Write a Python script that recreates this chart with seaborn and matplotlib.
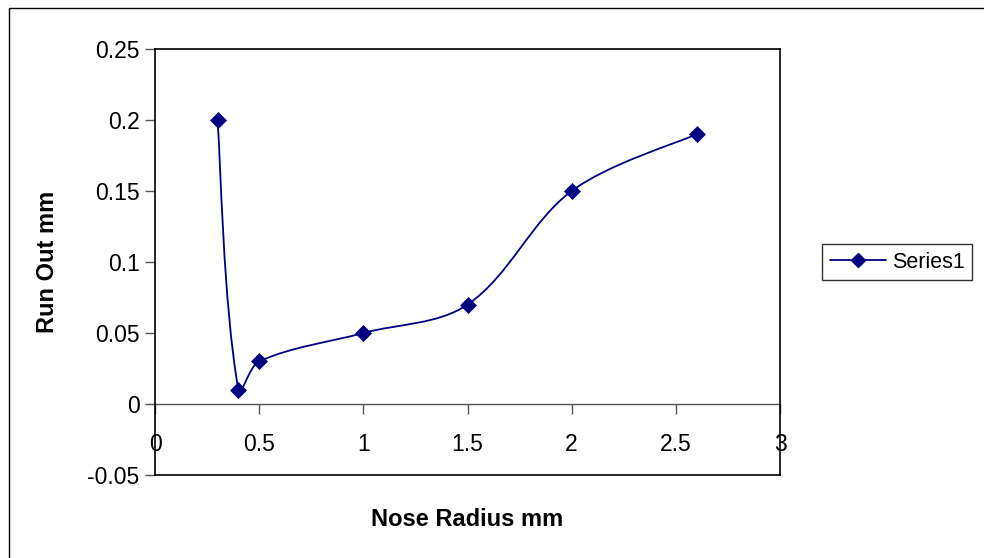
import numpy as np
import seaborn as sns
import matplotlib.pyplot as plt
import matplotlib.patches as mpatches
from matplotlib.path import Path
from matplotlib.lines import Line2D
from matplotlib.ticker import FuncFormatter

nose_radius = [0.3, 0.4, 0.5, 1.0, 1.5, 2.0, 2.6]
run_out = [0.2, 0.01, 0.03, 0.05, 0.07, 0.15, 0.19]
x_ticks = [0, 0.5, 1, 1.5, 2, 2.5, 3]
y_ticks = [-0.05, 0, 0.05, 0.1, 0.15, 0.2, 0.25]

navy = '#000080'

sns.set_style('white')
plt.rcParams['font.family'] = ['Liberation Sans', 'DejaVu Sans']
plt.rcParams['text.color'] = 'black'

fig = plt.figure(figsize=(9.84, 5.58), dpi=100)
ax = fig.add_axes([155 / 984, 1 - 475 / 558, 625 / 984, 426 / 558])

# smoothed line like Excel: cubic bezier segments, arm lengths follow the
# neighbouring segment lengths (measured in pixels) so nothing overshoots
sx, sy = 625 / 3.0, 426 / 0.3
P = np.column_stack([np.array(nose_radius) * sx, np.array(run_out) * sy])
n = len(P)
tang = []
for i in range(n):
    a = P[max(i - 1, 0)]
    b = P[min(i + 1, n - 1)]
    d = b - a
    tang.append(d / np.linalg.norm(d))
verts = [P[0]]
codes = [Path.MOVETO]
for i in range(n - 1):
    seg = np.linalg.norm(P[i + 1] - P[i])
    k0 = 1 / 6 if i == 0 else 1 / 3
    k1 = 1 / 6 if i + 1 == n - 1 else 1 / 3
    verts += [P[i] + tang[i] * seg * k0, P[i + 1] - tang[i + 1] * seg * k1, P[i + 1]]
    codes += [Path.CURVE4] * 3
verts = [(v[0] / sx, v[1] / sy) for v in verts]
ax.add_patch(mpatches.PathPatch(Path(verts, codes), fill=False, edgecolor=navy, lw=1.3, zorder=2))

sns.scatterplot(x=nose_radius, y=run_out, marker='D', s=75, color=navy, edgecolor=navy,
                linewidth=0, ax=ax, zorder=3)

ax.set_xlim(0, 3)
ax.set_ylim(-0.05, 0.25)
fmt = FuncFormatter(lambda v, p: f'{v:g}')
ax.set_yticks(y_ticks)
ax.yaxis.set_major_formatter(fmt)
ax.tick_params(axis='y', direction='out', length=7, width=1, color='#555555', labelcolor='black',
               labelsize=16.5, pad=4, left=True)
ax.set_xticks([])
for s in ax.spines.values():
    s.set_color('black')
    s.set_linewidth(1.2)

# x axis crossing at y = 0
sec = ax.secondary_xaxis(0.05 / 0.3)
sec.set_xticks(x_ticks)
sec.xaxis.set_major_formatter(fmt)
sec.spines['bottom'].set_color('#555555')
sec.spines['bottom'].set_linewidth(1)
sec.tick_params(axis='x', direction='out', length=7, width=1, color='#555555', labelcolor='black',
                labelsize=16.5, pad=14, bottom=True)

ax.set_xlabel('')
ax.set_ylabel('')
fig.text(467 / 984, 1 - 519 / 558, 'Nose Radius mm', ha='center', va='center', fontsize=17,
         fontweight='bold', color='black')
fig.text(48 / 984, 1 - 262 / 558, 'Run Out mm', ha='center', va='center', rotation=90, fontsize=17,
         fontweight='bold', color='black')

handle = Line2D([], [], color=navy, lw=1.3, marker='D', markersize=7, markerfacecolor=navy, markeredgecolor=navy)
leg = fig.legend([handle], ['Series1'], loc='center left', bbox_to_anchor=(822 / 984, 1 - 262 / 558),
                 frameon=True, fancybox=False, shadow=False, fontsize=15.5, handlelength=2.6,
                 handletextpad=0.3, borderpad=0.35, borderaxespad=0)
leg.get_frame().set_edgecolor('black')
leg.get_frame().set_linewidth(1)
for t in leg.get_texts():
    t.set_color('black')

fig.patches.append(mpatches.Rectangle((9 / 984, -0.1), 1.2, 1 - 8 / 558 + 0.1, transform=fig.transFigure,
                                      fill=False, edgecolor='black', linewidth=1))

fig.savefig('out.png', dpi=100, facecolor='white')
